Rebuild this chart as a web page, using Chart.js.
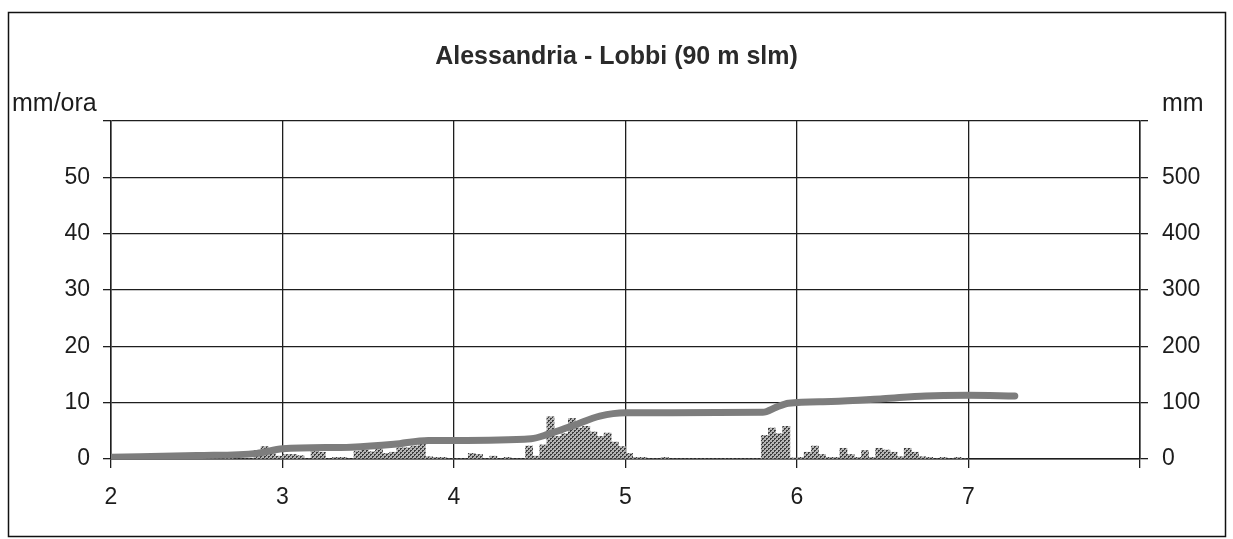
<!DOCTYPE html>
<html>
<head>
<meta charset="utf-8">
<script src="https://cdn.jsdelivr.net/npm/chart.js@4.4.1/dist/chart.umd.min.js"></script>
<style>
  body { margin: 0; background: #fff; }
  canvas { display: block; }
</style>
</head>
<body>
<canvas id="rain-chart" width="1233" height="539"></canvas>
<script>
// hourly rain (mm/ora), one array per day, index = hour
const day2 = [0,0,0,0,0,0,0.4,0,0,0,0.4,0,0,0,0,0,0.3,0,0,0,1.5,2.2,1.0,0.5]
const day3 = [0.8,0.8,0.6,0,1.4,1.2,0,0.3,0.3,0,1.4,1.6,1.3,1.8,1.0,1.2,2.0,2.0,2.3,2.6,0.4,0.3,0.3,0]
const day4 = [0,0,1.0,0.8,0,0.5,0,0.3,0,0,2.3,0.5,2.5,7.5,4.0,4.5,7.2,5.5,5.8,4.8,4.0,4.6,3.0,2.2]
const day5 = [1.0,0.3,0.3,0,0,0.3,0,0,0,0,0,0,0,0,0,0,0,0,0,4.2,5.5,4.5,5.8,0.2]
const day6 = [0.3,1.2,2.3,0.8,0.3,0.3,1.9,0.8,0.3,1.5,0.3,1.9,1.6,1.2,0.4,1.9,1.2,0.4,0.3,0,0.3,0,0.3,0]
const rainDays = [2, 3, 4, 5, 6]

// cumulative rain (mm)
const cumDays = [2.0, 2.5, 2.85, 3.0, 3.4, 3.65, 3.85, 4.0, 4.45, 4.55, 4.7, 4.85, 5.0, 5.8, 5.88, 5.95, 6.2, 6.5, 6.75, 7.0, 7.27]
const cumMm = [3, 6, 10, 18, 21, 26, 33, 33, 36, 44, 60, 76, 82, 83, 92, 99, 102, 107, 112, 113, 112]

const xLabels = [2, 3, 4, 5, 6, 7]
const leftLabels = [0, 10, 20, 30, 40, 50]
const rightLabels = [0, 100, 200, 300, 400, 500]

const TITLE = "Alessandria - Lobbi (90 m slm)"
const FONT = "'Liberation Sans', Arial, sans-serif"
const INK = "#1c1c1c"

const hourly = [day2, day3, day4, day5, day6]
const barPoints = []
hourly.forEach((vals, d) => {
  vals.forEach((v, h) => {
    barPoints.push({ x: rainDays[d] + (h + 0.5) / 24, y: v })
  })
})
const linePoints = cumDays.map((d, i) => ({ x: d, y: cumMm[i] }))

// dotted fill like the printed hatch
const makePattern = () => {
  const c = document.createElement("canvas")
  c.width = 4
  c.height = 4
  const g = c.getContext("2d")
  g.fillStyle = "#b4b4b4"
  g.fillRect(0, 0, 4, 4)
  g.fillStyle = "#3c3c3c"
  g.fillRect(0, 0, 2, 1)
  g.fillRect(0, 1, 1, 1)
  g.fillRect(2, 2, 2, 1)
  g.fillRect(2, 3, 1, 1)
  return g.createPattern(c, "repeat")
}

const framePlugin = {
  id: "frame",
  beforeDraw(chart) {
    const ctx = chart.ctx
    ctx.save()
    ctx.fillStyle = "#fff"
    ctx.fillRect(0, 0, chart.width, chart.height)
    ctx.restore()
  },
  afterDraw(chart) {
    const ctx = chart.ctx
    const area = chart.chartArea
    ctx.save()
    ctx.strokeStyle = "#111"
    ctx.lineWidth = 1.5
    ctx.strokeRect(8.5, 12.5, 1217, 524)
    ctx.fillStyle = INK
    ctx.font = "25px " + FONT
    ctx.textBaseline = "alphabetic"
    ctx.textAlign = "left"
    ctx.fillText("mm/ora", 12, area.top - 10)
    ctx.fillText("mm", 1162, area.top - 10)
    ctx.restore()
  }
}

const tickFont = { family: FONT, size: 23 }

const data = {
  datasets: [
    {
      type: "line",
      data: linePoints,
      yAxisID: "y2",
      borderColor: "#7d7d7d",
      borderWidth: 7,
      borderCapStyle: "round",
      pointRadius: 0,
      cubicInterpolationMode: "monotone",
      order: 0
    },
    {
      type: "bar",
      data: barPoints,
      yAxisID: "y",
      backgroundColor: makePattern(),
      borderWidth: 0,
      barPercentage: 1,
      categoryPercentage: 1,
      order: 1
    }
  ]
}

const config = {
  type: "bar",
  data: data,
  plugins: [framePlugin],
  options: {
    responsive: false,
    animation: false,
    layout: { padding: 0 },
    plugins: {
      legend: { display: false },
      tooltip: { enabled: false },
      title: {
        display: true,
        text: TITLE,
        color: "#2a2a2a",
        font: { family: FONT, size: 25, weight: "bold" },
        padding: { top: 42, bottom: 49 }
      }
    },
    scales: {
      x: {
        type: "linear",
        min: 2,
        max: 8,
        offset: false,
        afterFit: (s) => { s.height = 80 },
        afterBuildTicks: (s) => { s.ticks = [2, 3, 4, 5, 6, 7, 8].map(v => ({ value: v })) },
        ticks: {
          color: INK,
          font: tickFont,
          padding: 16,
          maxRotation: 0,
          callback: (v) => xLabels.includes(v) ? String(v) : ""
        },
        grid: { color: "#1e1e1e", lineWidth: 1.3, tickLength: 9, offset: false },
        border: { color: "#1e1e1e", width: 1.5 }
      },
      y: {
        position: "left",
        min: 0,
        max: 60,
        afterFit: (s) => { s.width = 111 },
        ticks: {
          stepSize: 5,
          color: INK,
          font: tickFont,
          padding: 13,
          callback: (v) => leftLabels.includes(v) ? String(v) : ""
        },
        grid: {
          lineWidth: 1.3,
          tickLength: 8,
          tickColor: "#1e1e1e",
          color: (c) => (c.tick && c.tick.value % 10 === 0) ? "#1e1e1e" : "rgba(0,0,0,0)"
        },
        border: { color: "#1e1e1e", width: 1.5 }
      },
      y2: {
        position: "right",
        min: 0,
        max: 600,
        afterFit: (s) => { s.width = 93 },
        ticks: {
          stepSize: 50,
          color: INK,
          font: tickFont,
          padding: 14,
          callback: (v) => rightLabels.includes(v) ? String(v) : ""
        },
        grid: { drawOnChartArea: false, tickLength: 8, color: "#1e1e1e", lineWidth: 1.3 },
        border: { color: "#1e1e1e", width: 1.5 }
      }
    }
  }
}

const ctx = document.getElementById("rain-chart")
new Chart(ctx, config)
</script>
</body>
</html>
